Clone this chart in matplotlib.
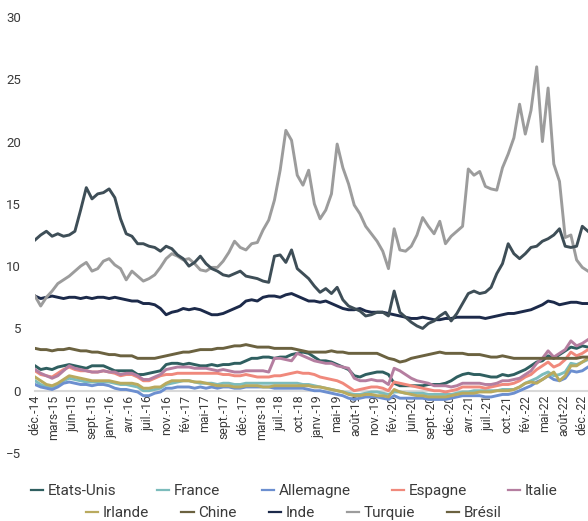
import matplotlib.pyplot as plt
from matplotlib.lines import Line2D
import numpy as np

# monthly values, Dec 2014 .. Jan 2023 (one row per year Jan..Dec)
etats_unis = [2.0,
    1.7, 1.8, 1.7, 1.9, 2.0, 2.1, 2.0, 1.9, 1.8, 2.0, 2.0, 2.0,
    1.8, 1.6, 1.6, 1.6, 1.6, 1.3, 1.3, 1.4, 1.5, 1.6, 2.1, 2.2,
    2.2, 2.1, 2.2, 2.1, 2.0, 2.0, 2.1, 2.0, 2.1, 2.1, 2.2, 2.2,
    2.4, 2.6, 2.6, 2.7, 2.7, 2.6, 2.7, 2.7, 2.9, 3.0, 3.1, 3.0,
    2.7, 2.4, 2.4, 2.3, 2.1, 1.9, 1.7, 1.2, 1.1, 1.3, 1.4, 1.5,
    1.5, 1.3, 0.6, 0.4, 0.4, 0.4, 0.4, 0.4, 0.5, 0.5, 0.5, 0.6,
    0.8, 1.1, 1.3, 1.4, 1.3, 1.3, 1.2, 1.1, 1.1, 1.3, 1.2, 1.3,
    1.5, 1.7, 2.0, 2.3, 2.4, 2.8, 2.6, 2.9, 3.2, 3.5, 3.4, 3.6,
    3.5]
france = [0.8,
    0.5, 0.3, 0.3, 0.5, 0.8, 1.0, 0.9, 0.8, 0.7, 0.7, 0.7, 0.7,
    0.7, 0.6, 0.5, 0.5, 0.4, 0.3, 0.0, 0.0, 0.1, 0.2, 0.5, 0.6,
    0.7, 0.8, 0.8, 0.7, 0.6, 0.6, 0.6, 0.5, 0.6, 0.6, 0.5, 0.5,
    0.6, 0.6, 0.6, 0.6, 0.6, 0.6, 0.6, 0.6, 0.6, 0.6, 0.5, 0.5,
    0.4, 0.3, 0.2, 0.1, 0.0, -0.1, -0.2, -0.3, -0.3, -0.2, -0.1, -0.1,
    -0.2, -0.3, -0.1, -0.1, -0.2, -0.2, -0.2, -0.2, -0.3, -0.3, -0.3, -0.3,
    -0.3, -0.2, -0.1, -0.1, 0.0, 0.0, 0.0, 0.0, 0.0, 0.1, 0.1, 0.1,
    0.3, 0.6, 0.8, 1.0, 1.3, 1.5, 1.2, 1.3, 1.5, 2.2, 2.1, 2.3,
    2.5]
allemagne = [0.5,
    0.3, 0.2, 0.1, 0.3, 0.6, 0.7, 0.6, 0.5, 0.5, 0.4, 0.5, 0.5,
    0.4, 0.2, 0.1, 0.1, 0.0, -0.1, -0.4, -0.4, -0.2, -0.1, 0.2, 0.2,
    0.3, 0.3, 0.3, 0.2, 0.3, 0.2, 0.3, 0.2, 0.3, 0.3, 0.2, 0.2,
    0.3, 0.3, 0.3, 0.3, 0.3, 0.2, 0.2, 0.2, 0.2, 0.2, 0.2, 0.1,
    0.0, 0.0, -0.1, -0.2, -0.3, -0.4, -0.6, -0.7, -0.6, -0.5, -0.5, -0.5,
    -0.6, -0.7, -0.4, -0.6, -0.6, -0.6, -0.6, -0.6, -0.7, -0.7, -0.7, -0.7,
    -0.6, -0.5, -0.4, -0.4, -0.4, -0.4, -0.5, -0.5, -0.4, -0.3, -0.3, -0.2,
    0.0, 0.2, 0.4, 0.7, 0.9, 1.2, 0.9, 0.8, 1.0, 1.6, 1.5, 1.6,
    1.9]
espagne = [1.6,
    1.3, 1.2, 1.1, 1.4, 1.7, 1.9, 1.7, 1.6, 1.6, 1.5, 1.5, 1.6,
    1.5, 1.4, 1.2, 1.3, 1.3, 1.1, 0.8, 0.8, 1.0, 1.2, 1.3, 1.3,
    1.4, 1.4, 1.4, 1.4, 1.4, 1.4, 1.4, 1.4, 1.3, 1.3, 1.2, 1.2,
    1.3, 1.2, 1.1, 1.1, 1.1, 1.2, 1.2, 1.3, 1.4, 1.5, 1.4, 1.4,
    1.3, 1.1, 1.0, 0.9, 0.8, 0.6, 0.3, 0.0, 0.1, 0.2, 0.3, 0.3,
    0.2, 0.0, 0.7, 0.6, 0.5, 0.4, 0.3, 0.2, 0.1, 0.0, 0.0, -0.1,
    0.0, 0.1, 0.3, 0.3, 0.3, 0.3, 0.2, 0.3, 0.4, 0.5, 0.5, 0.6,
    0.8, 1.1, 1.3, 1.7, 2.0, 2.3, 1.9, 2.1, 2.5, 3.1, 2.8, 3.0,
    3.3]
italie = [1.7,
    1.4, 1.2, 1.0, 1.2, 1.6, 2.0, 1.8, 1.7, 1.6, 1.5, 1.5, 1.6,
    1.5, 1.5, 1.3, 1.4, 1.4, 1.2, 0.9, 0.9, 1.1, 1.3, 1.7, 1.8,
    1.9, 1.9, 1.9, 1.8, 1.8, 1.8, 1.7, 1.6, 1.7, 1.6, 1.5, 1.5,
    1.6, 1.6, 1.6, 1.6, 1.5, 2.6, 2.6, 2.5, 2.4, 3.0, 2.8, 2.6,
    2.4, 2.3, 2.2, 2.2, 2.0, 1.9, 1.8, 1.0, 0.8, 0.8, 0.9, 0.8,
    0.8, 0.5, 1.8, 1.6, 1.3, 1.0, 0.8, 0.7, 0.6, 0.4, 0.4, 0.4,
    0.3, 0.4, 0.6, 0.6, 0.6, 0.6, 0.5, 0.5, 0.6, 0.8, 0.8, 0.9,
    1.0, 1.3, 1.6, 2.2, 2.6, 3.2, 2.7, 3.0, 3.3, 4.0, 3.6, 3.8,
    4.1]
irlande = [1.1,
    0.8, 0.5, 0.4, 0.6, 0.9, 1.2, 1.1, 1.0, 0.9, 0.8, 0.8, 0.8,
    0.8, 0.7, 0.6, 0.6, 0.6, 0.5, 0.2, 0.2, 0.3, 0.3, 0.6, 0.8,
    0.8, 0.8, 0.8, 0.7, 0.7, 0.6, 0.5, 0.4, 0.4, 0.4, 0.3, 0.3,
    0.4, 0.4, 0.4, 0.3, 0.3, 0.4, 0.4, 0.4, 0.4, 0.4, 0.4, 0.4,
    0.3, 0.3, 0.2, 0.1, 0.0, -0.1, -0.3, -0.4, -0.4, -0.3, -0.3, -0.4,
    -0.4, -0.5, 0.1, -0.1, -0.2, -0.3, -0.4, -0.4, -0.5, -0.5, -0.5, -0.5,
    -0.4, -0.3, -0.2, -0.2, -0.2, -0.1, -0.1, -0.1, 0.0, 0.0, 0.0, 0.1,
    0.3, 0.6, 0.7, 0.6, 0.9, 1.2, 1.5, 0.8, 1.2, 2.0, 2.0, 2.3,
    2.6]
chine = [3.4,
    3.3, 3.3, 3.2, 3.3, 3.3, 3.4, 3.3, 3.2, 3.2, 3.1, 3.1, 3.0,
    2.9, 2.9, 2.8, 2.8, 2.8, 2.6, 2.6, 2.6, 2.6, 2.7, 2.8, 2.9,
    3.0, 3.1, 3.1, 3.2, 3.3, 3.3, 3.3, 3.4, 3.4, 3.5, 3.6, 3.6,
    3.7, 3.6, 3.5, 3.5, 3.5, 3.4, 3.4, 3.4, 3.4, 3.3, 3.2, 3.1,
    3.1, 3.1, 3.1, 3.2, 3.1, 3.1, 3.0, 3.0, 3.0, 3.0, 3.0, 3.0,
    2.8, 2.6, 2.5, 2.3, 2.4, 2.6, 2.7, 2.8, 2.9, 3.0, 3.1, 3.0,
    3.0, 3.0, 3.0, 2.9, 2.9, 2.9, 2.8, 2.7, 2.7, 2.8, 2.7, 2.6,
    2.6, 2.6, 2.6, 2.6, 2.6, 2.6, 2.6, 2.6, 2.6, 2.6, 2.6, 2.7,
    2.7]
inde = [7.6,
    7.4, 7.5, 7.6, 7.5, 7.4, 7.5, 7.5, 7.4, 7.5, 7.4, 7.5, 7.5,
    7.4, 7.5, 7.4, 7.3, 7.2, 7.2, 7.0, 7.0, 6.9, 6.6, 6.1, 6.3,
    6.4, 6.6, 6.5, 6.6, 6.5, 6.3, 6.1, 6.1, 6.2, 6.4, 6.6, 6.8,
    7.2, 7.3, 7.2, 7.5, 7.6, 7.6, 7.5, 7.7, 7.8, 7.6, 7.4, 7.2,
    7.2, 7.1, 7.2, 7.0, 6.8, 6.6, 6.5, 6.5, 6.6, 6.4, 6.3, 6.3,
    6.3, 6.2, 6.1, 6.0, 5.9, 5.8, 5.8, 5.9, 5.8, 5.7, 5.7, 5.8,
    5.8, 5.9, 5.9, 5.9, 5.9, 5.9, 5.8, 5.9, 6.0, 6.1, 6.2, 6.2,
    6.3, 6.4, 6.5, 6.7, 6.9, 7.2, 7.1, 6.9, 7.0, 7.1, 7.1, 7.0,
    7.0]
turquie = [7.6,
    6.8, 7.5, 8.0, 8.6, 8.9, 9.2, 9.6, 10.0, 10.3, 9.6, 9.8, 10.4,
    10.6, 10.1, 9.8, 8.9, 9.6, 9.2, 8.8, 9.0, 9.3, 9.9, 10.6, 11.0,
    10.8, 10.5, 10.6, 10.2, 9.7, 9.6, 9.9, 9.9, 10.4, 11.1, 12.0, 11.5,
    11.3, 11.8, 11.9, 12.9, 13.7, 15.3, 17.7, 20.9, 20.1, 17.3, 16.5, 17.7,
    15.0, 13.8, 14.5, 15.8, 19.8, 17.9, 16.6, 14.9, 14.2, 13.2, 12.6, 12.0,
    11.2, 9.8, 13.0, 11.3, 11.2, 11.6, 12.5, 13.9, 13.2, 12.6, 13.6, 11.8,
    12.4, 12.8, 13.2, 17.8, 17.3, 17.6, 16.4, 16.2, 16.1, 17.9, 19.0, 20.3,
    23.0, 20.6, 22.5, 26.0, 20.0, 24.3, 18.2, 16.8, 12.3, 12.5, 10.5, 9.9,
    9.6]
bresil = [12.1,
    12.5, 12.8, 12.4, 12.6, 12.4, 12.5, 12.8, 14.5, 16.3, 15.4, 15.8, 15.9,
    16.2, 15.5, 13.8, 12.6, 12.4, 11.8, 11.8, 11.6, 11.5, 11.2, 11.6, 11.4,
    10.9, 10.6, 10.0, 10.3, 10.8, 10.2, 9.8, 9.6, 9.3, 9.2, 9.4, 9.6,
    9.2, 9.1, 9.0, 8.8, 8.7, 10.8, 10.9, 10.3, 11.3, 9.8, 9.4, 9.0,
    8.4, 7.9, 8.2, 7.8, 8.3, 7.3, 6.8, 6.6, 6.4, 6.0, 6.1, 6.3,
    6.3, 6.0, 8.0, 6.3, 5.9, 5.5, 5.2, 5.0, 5.4, 5.6, 6.0, 6.3,
    5.6, 6.2, 7.0, 7.8, 8.0, 7.8, 7.9, 8.3, 9.4, 10.2, 11.8, 11.0,
    10.6, 11.0, 11.5, 11.6, 12.0, 12.2, 12.5, 13.0, 11.6, 11.5, 11.6, 13.2,
    12.8]

noms = ['Etats-Unis', 'France', 'Allemagne', 'Espagne', 'Italie',
        'Irlande', 'Chine', 'Inde', 'Turquie', 'Brésil']
series = [etats_unis, france, allemagne, espagne, italie,
          irlande, chine, inde, turquie, bresil]
couleurs = ['#2f5f60', '#7cbcbc', '#6c8fd0', '#f0897c', '#b57ea0',
            '#b9aa5e', '#6b6240', '#1c2a4a', '#9c9c9c', '#3e4e57']
couleurs_legende = couleurs[:9] + ['#6b6240']

x_labels = ['déc.-14', 'mars-15', 'juin-15', 'sept.-15', 'janv.-16', 'avr.-16',
            'juil.-16', 'nov.-16', 'fév.-17', 'mai-17', 'sept.-17', 'déc.-17',
            'mars-18', 'juil.-18', 'oct.-18', 'janv.-19', 'mai-19', 'août-19',
            'nov.-19', 'fév.-20', 'juin-20', 'sept.-20', 'déc.-20', 'avr.-21',
            'juil.-21', 'oct.-21', 'fév.-22', 'mai-22', 'août-22', 'déc.-22']

plt.rcParams['font.family'] = ['Roboto', 'DejaVu Sans']
txt = '#3a3a3a'

fig = plt.figure(figsize=(5.88, 5.21), dpi=100)
ax = fig.add_axes([35/588, 1-453/521, 553/588, 436/521])

for vals, c in zip(series, couleurs):
    ax.plot(np.arange(len(vals)), vals, color=c, lw=2.1, solid_joinstyle='round')

ax.set_xlim(0, 97)
ax.set_ylim(-5, 30)
ax.set_yticks(range(-5, 31, 5))
ax.set_xticks(np.arange(len(x_labels)) * 96 / (len(x_labels) - 1))
ax.set_xticklabels(x_labels)

for s in ['top', 'right', 'left']:
    ax.spines[s].set_visible(False)
ax.spines['bottom'].set_position(('data', 0))
ax.spines['bottom'].set_color('#d9d9d9')
ax.spines['bottom'].set_linewidth(1.5)
ax.spines['bottom'].set_zorder(0)
ax.tick_params(axis='x', length=0, pad=3, labelsize=8.8, labelcolor=txt,
               labelrotation=90)
ax.tick_params(axis='y', length=0, pad=10, labelsize=9.5, labelcolor=txt)

handles = [Line2D([], [], color=c, lw=1.6) for c in couleurs_legende]
for rang, y, esp in [(slice(0, 5), 491, 2.7), (slice(5, 10), 513, 2.1)]:
    leg = fig.legend(handles[rang], noms[rang], loc='center',
                     bbox_to_anchor=(0.5, 1 - y/521), ncol=5, frameon=False,
                     fontsize=11, handlelength=0.8, handletextpad=0.3,
                     columnspacing=esp, labelcolor=txt)

fig.savefig('out.png', dpi=100)
